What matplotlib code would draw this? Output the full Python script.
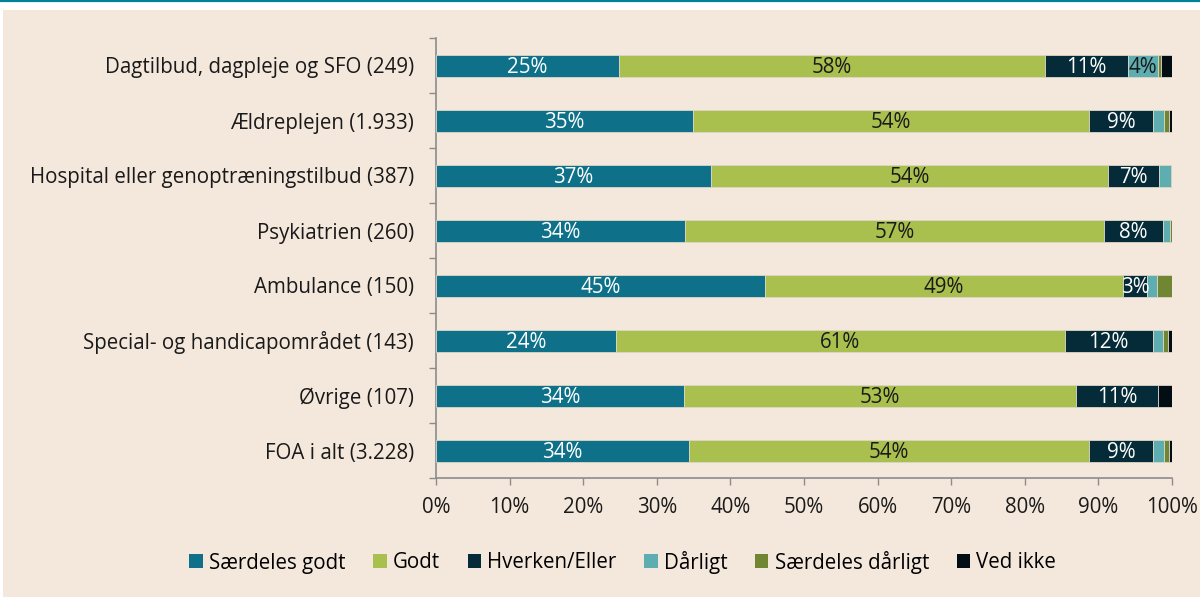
import matplotlib
matplotlib.use("Agg")
import matplotlib.pyplot as plt
import numpy as np
from matplotlib.patches import Rectangle
from matplotlib.lines import Line2D

categories = [
    "Dagtilbud, dagpleje og SFO (249)",
    "Ældreplejen (1.933)",
    "Hospital eller genoptræningstilbud (387)",
    "Psykiatrien (260)",
    "Ambulance (150)",
    "Special- og handicapområdet (143)",
    "Øvrige (107)",
    "FOA i alt (3.228)",
]
series_names = ["Særdeles godt", "Godt", "Hverken/Eller", "Dårligt", "Særdeles dårligt", "Ved ikke"]
saerdeles_godt = [24.9, 34.9, 37.4, 33.8, 44.67, 24.5, 33.64, 34.4]
godt = [57.8, 53.8, 53.9, 57.0, 48.67, 60.9, 53.27, 54.3]
hverken = [11.3, 8.7, 6.9, 8.0, 3.33, 12.0, 11.21, 8.7]
daarligt = [4.1, 1.5, 1.6, 0.9, 1.33, 1.4, 0.0, 1.5]
saerdeles_daarligt = [0.4, 0.7, 0.2, 0.3, 2.0, 0.7, 0.0, 0.7]
ved_ikke = [1.5, 0.4, 0.0, 0.0, 0.0, 0.7, 1.87, 0.4]
xticks = [0, 10, 20, 30, 40, 50, 60, 70, 80, 90, 100]

colors = ["#0e7189", "#a9bf4e", "#052b38", "#5eadb0", "#718633", "#020e14"]
text_colors = ["white", "#1a1a1a", "white", "#1a1a1a", "white", "white"]

plt.rcParams['font.family'] = ['Open Sans', 'DejaVu Sans']
bg = "#f4e8dc"
FS = 14.8

fig = plt.figure(figsize=(12, 5.97), dpi=100, facecolor="white")
fig.patches.append(Rectangle((3/1200, 0), 1 - 3/1200, 1 - 10/597, transform=fig.transFigure,
                             facecolor=bg, edgecolor="none", zorder=-10))
fig.lines.append(Line2D([0, 1], [1 - 1/597, 1 - 1/597], transform=fig.transFigure,
                        color="#00829a", linewidth=1.6, zorder=-5))

ax = fig.add_axes([436/1200, 1 - 478/597, 736/1200, 440/597])
ax.set_facecolor("none")

data = [saerdeles_godt, godt, hverken, daarligt, saerdeles_daarligt, ved_ikke]
y = np.arange(len(categories))
left = np.zeros(len(categories))
for i, (name, vals) in enumerate(zip(series_names, data)):
    vals = np.array(vals)
    ax.barh(y, vals, left=left, height=0.4, color=colors[i], label=name,
            edgecolor="#dcd6c8", linewidth=0.6, zorder=3)
    for j, v in enumerate(vals):
        if i <= 3 and v >= 3:
            ax.text(left[j] + v / 2, y[j] + 0.03, f"{round(v):d}%", ha="center", va="center",
                    color=text_colors[i], fontsize=FS, zorder=4)
    left += vals

ax.set_xlim(0, 100)
ax.set_ylim(len(categories) - 0.5, -0.5)
ax.set_xticks(xticks)
ax.set_xticklabels([f"{t}%" for t in xticks], fontsize=FS, color="#1a1a1a")
ax.set_yticks(np.arange(-0.5, len(categories) + 0.5, 1))
ax.set_yticklabels([])
ax.set_yticks(y, minor=True)
ax.set_yticklabels(categories, minor=True, fontsize=FS, color="#1a1a1a")
ax.tick_params(axis="y", which="major", length=5, color="#8c8c8c", width=1)
ax.tick_params(axis="y", which="minor", length=0, pad=16)
ax.tick_params(axis="x", length=5, color="#8c8c8c", width=1, pad=9)
for s in ["top", "right"]:
    ax.spines[s].set_visible(False)
for s in ["left", "bottom"]:
    ax.spines[s].set_color("#8c8c8c")
    ax.spines[s].set_linewidth(1.2)

handles, labels = ax.get_legend_handles_labels()
leg = fig.legend(handles, labels, loc="center", bbox_to_anchor=(0.519, 1 - 562/597), ncol=6,
                 frameon=False, fontsize=FS, handlelength=0.65, handleheight=0.65,
                 handletextpad=0.3, columnspacing=1.35)
for h in leg.legend_handles:
    h.set_edgecolor("none")

fig.savefig("out.png", dpi=100, facecolor="white")
